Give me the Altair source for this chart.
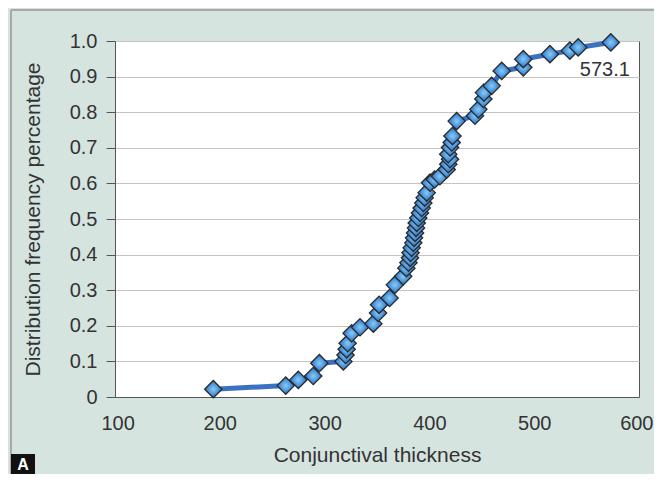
import altair as alt
import pandas as pd

thickness = [193.8, 262.9, 274.9, 289.2, 295.0, 317.9, 320.0, 321.0, 322.0, 325.8,
             333.8, 346.5, 351.0, 352.0, 362.0, 367.0, 375.0, 378.0, 380.0, 381.5,
             382.0, 383.0, 384.6, 385.3, 386.3, 387.2, 387.9, 389.4, 391.0, 392.6,
             394.2, 395.5, 397.4, 400.6, 405.0, 410.0, 416.5, 418.0, 419.7, 418.0,
             419.7, 421.3, 422.0, 426.0, 443.5, 446.7, 451.5, 452.0, 459.4, 469.0,
             489.6, 489.6, 515.0, 534.0, 542.0, 573.1]
frequency = [0.022, 0.032, 0.048, 0.059, 0.095, 0.100, 0.118, 0.134, 0.151, 0.179,
             0.196, 0.206, 0.236, 0.259, 0.278, 0.315, 0.339, 0.362, 0.377, 0.391,
             0.405, 0.419, 0.433, 0.447, 0.461, 0.475, 0.489, 0.503, 0.517, 0.531,
             0.545, 0.560, 0.574, 0.602, 0.611, 0.620, 0.639, 0.654, 0.668, 0.682,
             0.701, 0.715, 0.733, 0.775, 0.790, 0.808, 0.837, 0.855, 0.874, 0.916,
             0.926, 0.949, 0.963, 0.973, 0.982, 0.996]
x_ticks = [100, 200, 300, 400, 500, 600]
y_ticks = [0, 0.1, 0.2, 0.3, 0.4, 0.5, 0.6, 0.7, 0.8, 0.9, 1.0]
end_label = "573.1"
panel_label = "A"

df = pd.DataFrame({"x": thickness, "y": frequency, "order": list(range(len(thickness)))})
last = df.tail(1).assign(label=end_label)
one = pd.DataFrame({"label": [panel_label]})

FONT = "Liberation Sans"

xenc = alt.X("x:Q", scale=alt.Scale(domain=[100, 600], nice=False, zero=False),
             axis=alt.Axis(values=x_ticks, title="Conjunctival thickness", grid=False,
                           ticks=False, labelPadding=16, labelFlush=True,
                           labelFlushOffset=14,
                           labelOverlap=False, domainColor="#555",
                           titleX=262, titleY=58, titleBaseline="middle"))
yenc = alt.Y("y:Q", scale=alt.Scale(domain=[0, 1], nice=False),
             axis=alt.Axis(values=y_ticks, title="Distribution frequency percentage",
                           grid=True, gridColor="#c4c4c4", tickSize=9, tickColor="#555",
                           domainColor="#555", labelPadding=9, labelOverlap=False,
                           labelFlush=False,
                           labelExpr="datum.value == 0 ? '0' : format(datum.value, '.1f')",
                           titleX=-82, titleY=178, titleAngle=270,
                           titleBaseline="middle", titleAlign="center"))

base = alt.Chart(df)
line = base.mark_line(color="#3a71c0", strokeWidth=5).encode(x=xenc, y=yenc, order="order:Q")
pts = base.mark_point(
    shape="diamond", size=300, filled=True, opacity=1,
    fill=alt.Gradient(gradient="radial",
                      stops=[alt.GradientStop(color="#8ccbf7", offset=0),
                             alt.GradientStop(color="#3f8ad5", offset=0.6),
                             alt.GradientStop(color="#2a62ab", offset=1)],
                      x1=0.5, y1=0.5, r1=0, x2=0.5, y2=0.5, r2=0.6),
    stroke="#2a2a2a", strokeWidth=1.3,
).encode(x=xenc, y=yenc)
lab = alt.Chart(last).mark_text(font=FONT, fontSize=20, color="#333", dx=-6, dy=28).encode(
    x=xenc, y=yenc, text="label:N")

border_top = alt.Chart(one).mark_rule(color="#a8a8a8", strokeWidth=2).encode(
    x=alt.value(-104), x2=alt.value(540), y=alt.value(-31))
border_left = alt.Chart(one).mark_rule(color="#a8a8a8", strokeWidth=2).encode(
    x=alt.value(-104), y=alt.value(-31), y2=alt.value(440))
abox = alt.Chart(one).mark_rect(color="#111").encode(
    x=alt.value(-104), x2=alt.value(-80), y=alt.value(413), y2=alt.value(433))
atext = alt.Chart(one).mark_text(font=FONT, fontSize=16, fontWeight="bold", color="white",
                                 baseline="top", align="center").encode(
    x=alt.value(-92), y=alt.value(416), text="label:N")

chart = alt.layer(border_top, border_left, abox, atext, line, pts, lab).properties(
    width=524, height=356,
    autosize=alt.AutoSizeParams(type="none"),
    padding={"left": 107, "top": 33, "right": 15, "bottom": 77},
    background="#d6e4e0",
).configure_view(stroke="#555", strokeWidth=1, fill="white").configure_axis(
    labelFont=FONT, labelFontSize=20, labelColor="#333",
    titleFont=FONT, titleFontSize=21, titleFontWeight="normal", titleColor="#333",
)

chart.save("out.html", embed_options={"renderer": "svg", "actions": False})
